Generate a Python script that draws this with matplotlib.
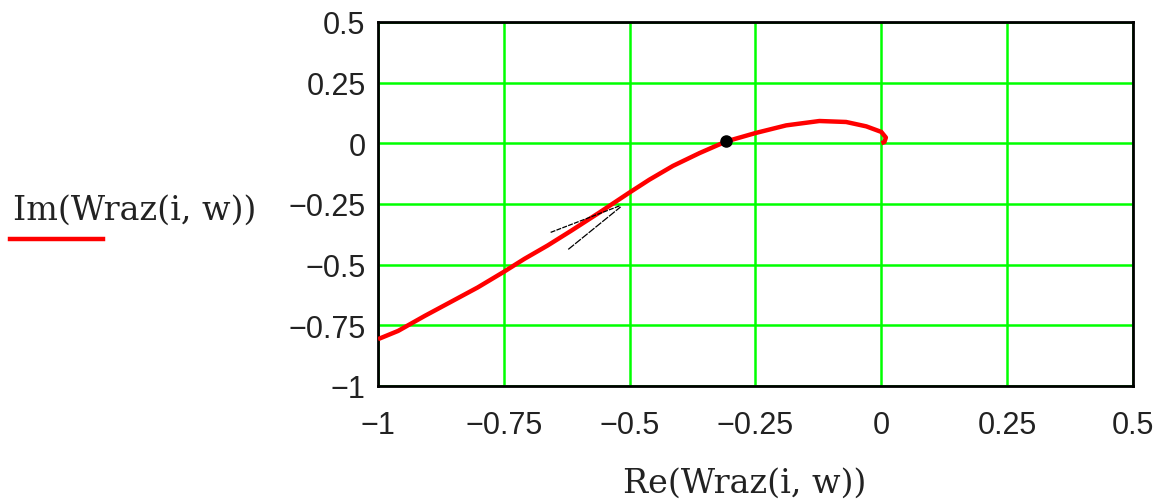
import matplotlib.pyplot as plt
from matplotlib.lines import Line2D

# Nyquist trace of Wraz(i, w)
re_vals = [-1.0, -0.96, -0.907, -0.854, -0.802, -0.752, -0.709, -0.663, -0.616,
           -0.56, -0.502, -0.461, -0.414, -0.361, -0.308, -0.249, -0.189, -0.123,
           -0.07, -0.03, 0.0, 0.009, 0.006, 0.0]
im_vals = [-0.807, -0.773, -0.711, -0.652, -0.594, -0.532, -0.476, -0.421, -0.36,
           -0.285, -0.205, -0.150, -0.093, -0.04, 0.008, 0.043, 0.074, 0.092,
           0.088, 0.07, 0.047, 0.024, 0.005, 0.001]

# marked point on the trace
dot_re, dot_im = -0.309, 0.01

# trace cursor strokes
cursor_a_re = [-0.657, -0.518]
cursor_a_im = [-0.367, -0.256]
cursor_b_re = [-0.622, -0.518]
cursor_b_im = [-0.437, -0.262]

ticks = [-1, -0.75, -0.5, -0.25, 0, 0.25, 0.5]
tick_labels = ["\u22121", "\u22120.75", "\u22120.5", "\u22120.25", "0", "0.25", "0.5"]

W, H = 1171, 502
fig = plt.figure(figsize=(W / 100, H / 100), dpi=100)
ax = fig.add_axes([378 / W, 1 - 387 / H, (1133 - 378) / W, (387 - 23) / H])

ax.plot(re_vals, im_vals, color="#ff0000", lw=3.2, solid_joinstyle="round",
        solid_capstyle="butt", zorder=3)
ax.plot(cursor_a_re, cursor_a_im, color="black", lw=0.9, ls=(0, (4, 1)), zorder=4)
ax.plot(cursor_b_re, cursor_b_im, color="black", lw=0.9, ls=(0, (6, 1)), zorder=4)
ax.plot(dot_re, dot_im, "o", color="black", ms=8, zorder=5)

ax.set_xlim(-1, 0.5)
ax.set_ylim(-1, 0.5)
ax.set_xticks(ticks)
ax.set_yticks(ticks)
ax.set_xticklabels(tick_labels)
ax.set_yticklabels(tick_labels)
ax.tick_params(length=0, labelsize=22)
ax.tick_params(axis="x", pad=17)
ax.tick_params(axis="y", pad=9)
for lab in ax.get_xticklabels() + ax.get_yticklabels():
    lab.set_fontfamily("Liberation Sans")
    lab.set_color("#222222")
ax.grid(True, color="#00ff00", lw=1.8)
ax.set_axisbelow(True)
for sp in ax.spines.values():
    sp.set_linewidth(2)
    sp.set_color("black")

fig.text(13 / W, 1 - 211 / H, "Im(Wraz(i, w))", fontsize=24,
         family="DejaVu Serif", va="center", ha="left", color="#222222")
fig.add_artist(Line2D([10 / W, 103 / W], [1 - 240 / H, 1 - 240 / H],
                      color="#ff0000", lw=3.2, transform=fig.transFigure))
fig.text(745 / W, 1 - 484 / H, "Re(Wraz(i, w))", fontsize=24,
         family="DejaVu Serif", va="center", ha="center", color="#222222")

fig.savefig("out.png", dpi=100)
